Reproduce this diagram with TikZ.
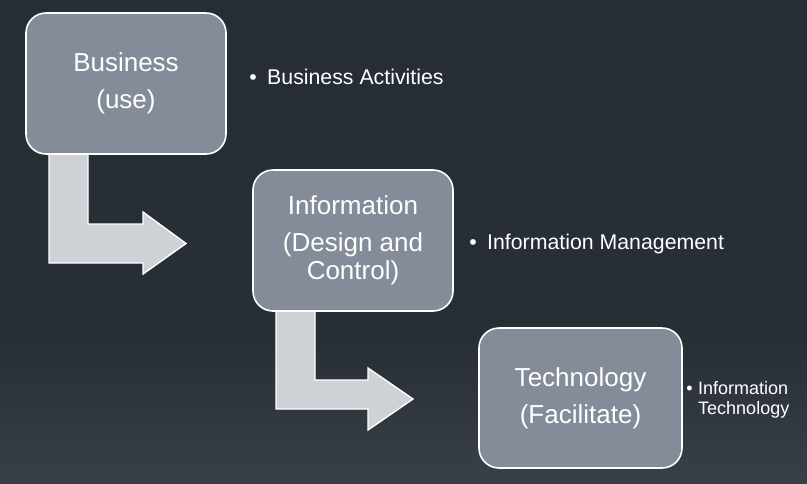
\documentclass[tikz,border=0pt]{standalone}
\usepackage{fontspec}
\setmainfont{Liberation Sans}
\usetikzlibrary{calc}
\definecolor{bgtop}{RGB}{38,44,52}
\definecolor{bgmid}{RGB}{40,46,54}
\definecolor{bgbot}{RGB}{84,92,101}
\definecolor{boxfill}{RGB}{133,140,153}
\definecolor{arrowfill}{RGB}{206,209,213}
\pgfdeclareverticalshading{bgshade}{100bp}{color(0bp)=(bgbot); color(40bp)=(bgmid); color(100bp)=(bgtop)}
\tikzset{
  stage/.style={draw=white, line width=1.6pt, fill=boxfill, rounded corners=20pt,
    text=white, align=center, inner sep=0pt,
    font=\fontsize{26}{28}\selectfont},
  bentarrow/.style={draw=white, line width=1.4pt, fill=arrowfill, line join=miter},
  bulletmark/.style={text=white, inner sep=0pt, font=\fontsize{21.3}{24}\selectfont},
  bullettext/.style={text=white, inner sep=0pt, align=left, font=\fontsize{21.3}{24}\selectfont},
}
\begin{document}
\begin{tikzpicture}[x=1pt,y=-1pt]
\useasboundingbox (0,0) rectangle (807,483);
\shade[shading=bgshade] (0,0) rectangle (807,483);

% arrows (behind boxes)
\coordinate (a1s) at (49,154);
\draw[bentarrow] (a1s) -- (49,263) -- (143,263) -- (143,274) -- (186,243.5) -- (143,212) -- (143,224) -- (88,224) -- (88,154) -- cycle;
\coordinate (a2s) at (276,311);
\draw[bentarrow] (a2s) -- (276,409) -- (368,409) -- (368,430) -- (413,399) -- (368,368) -- (368,380) -- (315,380) -- (315,311) -- cycle;

% boxes
\node[stage, minimum width=200pt, minimum height=141pt] (b1) at (126,83.5) {Business\\[9pt](use)};
\node[stage, minimum width=200pt, minimum height=141pt] (b2) at (353,240.5) {Information\\[9pt](Design and\\Control)};
\node[stage, minimum width=203pt, minimum height=140pt] (b3) at (580.5,398) {Technology\\[9pt](Facilitate)};

% bullets
\node[bulletmark, anchor=base] (m1) at (253,84) {•};
\node[bullettext, anchor=base west] (t1) at (267,84) {Business Activities};
\node[bulletmark, anchor=base] (m2) at (473,249) {•};
\node[bullettext, anchor=base west] (t2) at (487,249) {Information Management};
\node[bulletmark, anchor=base, font=\fontsize{18}{20}\selectfont] (m3) at (689.5,394) {•};
\node[bullettext, anchor=base west, font=\fontsize{18}{20}\selectfont] (t3) at (698,394) {Information};
\node[bullettext, anchor=base west, font=\fontsize{18}{20}\selectfont] (t4) at (698,414) {Technology};
\end{tikzpicture}
\end{document}
